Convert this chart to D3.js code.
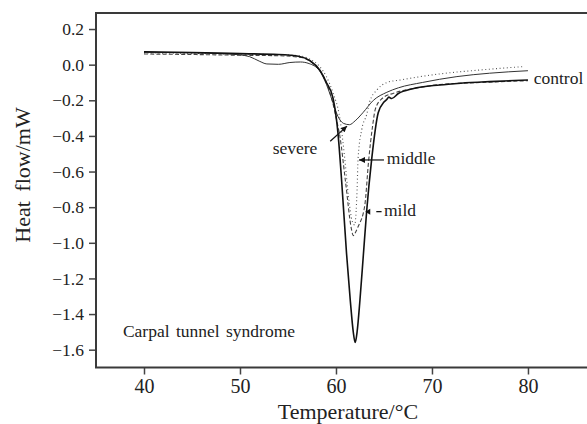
<!doctype html>
<html lang="">

<head>
    <meta charset="utf-8">
    <title>DSC curves - Carpal tunnel syndrome</title>
    <style type="text/css">
        body {
            margin: 0px;
            background: #ffffff;
        }

        svg {
            display: block;
        }

        text {
            font-family: "Liberation Serif", "DejaVu Serif", serif;
            fill: #222;
        }

        .tick line {
            stroke: #444;
            stroke-width: 1.5px;
        }

        .domain {
            display: none;
        }
    </style>
</head>

<body>
    <script src="https://cdnjs.cloudflare.com/ajax/libs/d3/7.8.5/d3.min.js"></script>
    <div id="chart"></div>
    <script>
        // temperature (°C) / heat flow (mW) pairs
        var controlCurve = [[40, 0.072], [45, 0.068], [50, 0.062], [54, 0.057], [56.2, 0.046], [57.3, 0.022],
        [58.3, -0.03], [59.0, -0.1], [59.7, -0.19], [60.2, -0.38], [60.6, -0.66], [61.1, -1.06], [61.5, -1.33],
        [61.8, -1.5], [62.0, -1.56], [62.2, -1.5], [62.5, -1.32], [62.85, -1.07], [63.2, -0.82], [63.7, -0.54],
        [64.4, -0.27], [65.0, -0.21], [65.3, -0.195], [65.5, -0.182], [65.8, -0.19], [66.5, -0.162], [68, -0.135],
        [70.8, -0.114], [73, -0.104], [76, -0.095], [80, -0.086]];

        var severeCurve = [[40, 0.07], [45, 0.066], [48, 0.062], [50, 0.055], [51, 0.045], [52, 0.02], [52.8, 0.004],
        [54, 0.002], [55.2, 0.012], [56.3, 0.015], [57.2, 0.006], [58.3, -0.035], [59.0, -0.11], [59.6, -0.2],
        [60.2, -0.29], [60.8, -0.33], [61.4, -0.337], [62.0, -0.315], [62.8, -0.27], [63.9, -0.2], [65.3, -0.155],
        [66.5, -0.13], [69, -0.1], [72.6, -0.067], [76, -0.048], [80, -0.034]];

        var middleCurve = [[40, 0.066], [45, 0.063], [50, 0.059], [54, 0.056], [56.2, 0.05], [57.3, 0.03],
        [58.3, -0.01], [59.0, -0.067], [59.7, -0.16], [60.4, -0.3], [60.9, -0.52], [61.3, -0.74], [61.7, -0.88],
        [61.95, -0.9], [62.1, -0.82], [62.2, -0.7], [62.3, -0.53], [62.7, -0.36], [63.2, -0.28], [63.5, -0.21],
        [64.3, -0.14], [65.3, -0.1], [66.7, -0.086], [70.8, -0.052], [75, -0.03], [79.5, -0.011]];

        var mildCurve = [[40, 0.06], [45, 0.057], [50, 0.053], [54, 0.05], [56.2, 0.042], [57.3, 0.02],
        [58.3, -0.03], [59.0, -0.1], [59.6, -0.2], [60.1, -0.32], [60.4, -0.4], [61.0, -0.66], [61.6, -0.92],
        [61.8, -0.96], [62.0, -0.945], [62.3, -0.91], [63.0, -0.79], [63.4, -0.54], [63.8, -0.35], [64.1, -0.25],
        [64.8, -0.19], [66, -0.16], [68, -0.135], [70.8, -0.112], [75, -0.1], [80, -0.09]];

        var xTicks = [40, 50, 60, 70, 80];
        var yTicks = [0.2, 0.0, -0.2, -0.4, -0.6, -0.8, -1.0, -1.2, -1.4, -1.6];

        var width = 587
        height = 424

        var svg = d3.select("#chart")
            .append("svg")
            .attr("width", width)
            .attr("height", height);

        // the frame is cut at the right edge of the picture
        var x = d3.scaleLinear().domain([35, 86.15]).range([96, 587]);
        var y = d3.scaleLinear().domain([-1.7, 0.29]).range([367.5, 13]);

        // ticks
        svg.append("g")
            .attr("transform", "translate(0," + y(-1.7) + ")")
            .call(d3.axisBottom(x).tickValues(xTicks).tickSize(7).tickPadding(4).tickFormat(d3.format("d")))
            .selectAll("text")
            .style("font-size", "20px")
            .style("font-family", "Liberation Serif");

        svg.append("g")
            .attr("transform", "translate(" + x(35) + ",0)")
            .call(d3.axisLeft(y).tickValues(yTicks).tickSize(7).tickPadding(5).tickFormat(d3.format(".1f")))
            .selectAll("text")
            .style("font-size", "17.5px")
            .style("font-family", "Liberation Serif");

        // frame: left, top and bottom
        var frame = d3.line();
        svg.append("path")
            .attr("d", frame([[width, y(0.29)], [x(35), y(0.29)], [x(35), y(-1.7)], [width, y(-1.7)]]))
            .attr("fill", "none")
            .attr("stroke", "#3a3a3a")
            .attr("stroke-width", 2);

        var line = d3.line()
            .x(function (d) { return x(d[0]); })
            .y(function (d) { return y(d[1]); })
            .curve(d3.curveMonotoneX);

        var series = [
            { data: middleCurve, width: 1.1, dash: "1,2.6", color: "#555" },
            { data: mildCurve, width: 1.1, dash: "4,2.2", color: "#444" },
            { data: severeCurve, width: 1, dash: null, color: "#333" },
            { data: controlCurve, width: 1.6, dash: null, color: "#111" }
        ];

        svg.selectAll("path.curve")
            .data(series)
            .enter()
            .append("path")
            .attr("class", "curve")
            .attr("d", function (d) { return line(d.data); })
            .attr("fill", "none")
            .attr("stroke", function (d) { return d.color; })
            .attr("stroke-width", function (d) { return d.width; })
            .attr("stroke-dasharray", function (d) { return d.dash; });

        // arrow heads
        svg.append("defs").append("marker")
            .attr("id", "head")
            .attr("viewBox", "0 0 10 10")
            .attr("refX", 10)
            .attr("refY", 5)
            .attr("markerWidth", 7)
            .attr("markerHeight", 6)
            .attr("markerUnits", "userSpaceOnUse")
            .attr("orient", "auto")
            .append("path")
            .attr("d", "M0,0L10,5L0,10z")
            .attr("fill", "#111");

        function arrow(x1, y1, x2, y2) {
            svg.append("line")
                .attr("x1", x(x1)).attr("y1", y(y1))
                .attr("x2", x(x2)).attr("y2", y(y2))
                .attr("stroke", "#111")
                .attr("stroke-width", 1.2)
                .attr("marker-end", "url(#head)");
        }

        arrow(59.4, -0.43, 61.15, -0.345);
        arrow(65.0, -0.535, 62.4, -0.535);
        svg.append("line")
            .attr("x1", x(64.2)).attr("y1", y(-0.825))
            .attr("x2", x(64.75)).attr("y2", y(-0.825))
            .attr("stroke", "#111")
            .attr("stroke-width", 1.3);
        svg.append("path")
            .attr("d", "M" + x(63.05) + "," + y(-0.825) + "l5,-3l0,6z")
            .attr("fill", "#111");

        // labels
        var labels = [
            { t: "control", x: 80.6, y: -0.11 },
            { t: "severe", x: 53.4, y: -0.5 },
            { t: "middle", x: 65.3, y: -0.56 },
            { t: "mild", x: 65.0, y: -0.85 },
            { t: "Carpal tunnel syndrome", x: 37.8, y: -1.53 }
        ];

        svg.selectAll("text.lab")
            .data(labels)
            .enter()
            .append("text")
            .attr("class", "lab")
            .attr("x", function (d) { return x(d.x); })
            .attr("y", function (d) { return y(d.y); })
            .style("font-size", "17.5px")
            .style("word-spacing", "2px")
            .text(function (d) { return d.t; });

        // axis titles
        svg.append("text")
            .attr("x", 348)
            .attr("y", 419)
            .attr("text-anchor", "middle")
            .style("font-size", "22px")
            .text("Temperature/°C");

        svg.append("text")
            .attr("transform", "translate(30,175) rotate(-90)")
            .attr("text-anchor", "middle")
            .style("font-size", "22px")
            .style("word-spacing", "4px")
            .text("Heat flow/mW");
    </script>
</body>

</html>
